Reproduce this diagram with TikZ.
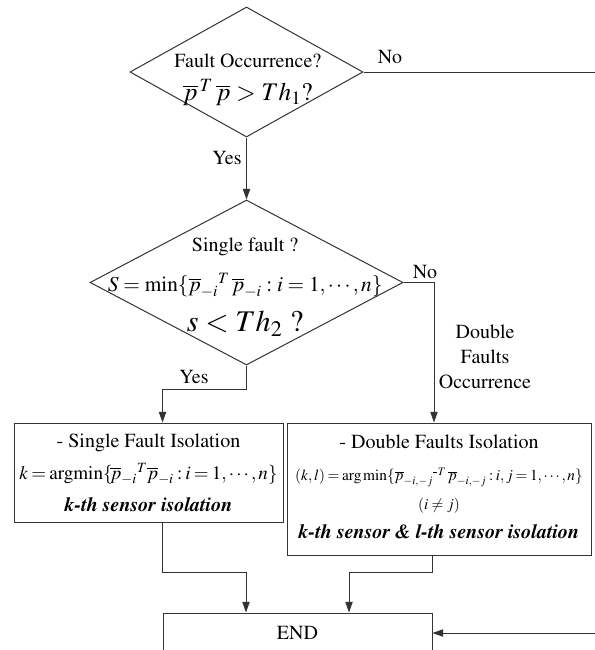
\documentclass[tikz,border=0pt]{standalone}
\usepackage[T1]{fontenc}
\usepackage{mathptmx}
\usetikzlibrary{arrows.meta,shapes.geometric}
\newcommand{\tightmath}{\thickmuskip=3mu\medmuskip=2mu\thinmuskip=2mu}

\begin{document}
\begin{tikzpicture}[x=0.75pt,y=-0.75pt, font=\fontsize{15}{18}\selectfont, line width=0.75pt,
 decision/.style={draw=black!80,diamond,inner sep=0pt},
 process/.style={draw=black!80,rectangle,align=center,inner sep=0pt},
 flow/.style={->,draw=black!80},
 >={Triangle[length=8pt,width=5.5pt]}]
\useasboundingbox (0,0) rectangle (595,650);
% decisions
\node[decision,minimum width=174.75pt,minimum height=97.5pt] (fault) at (246.5,72) {};
\node[align=center,font=\fontsize{15}{25}\selectfont] (faulttxt) at ([xshift=1pt,yshift=-6pt]fault.center)
 {Fault Occurrence?\\{\fontsize{19}{19}\selectfont$\overline{p}^{\,T}\,\overline{p} > Th_1?$}};
\node[decision,minimum width=234.75pt,minimum height=123.75pt] (single) at (246.5,282.5) {};
\node[align=center,font=\fontsize{15}{30}\selectfont] (singletxt) at ([xshift=-1pt,yshift=-3.4pt]single.center)
 {Single fault ?\\{\fontsize{16}{16}\selectfont$S=\min\{\overline{p}_{-i}{}^{T}\,\overline{p}_{-i} : i=1,\cdots,n\}$}\\{\fontsize{22.5}{22.5}\selectfont$s<Th_{2}\ ?$}};
% isolation boxes
\node[process,minimum width=201.75pt,minimum height=74.25pt,font=\fontsize{15}{24}\selectfont] (sfi) at (148.5,472.5)
 {- Single Fault Isolation\\{\fontsize{14.3}{14.3}\selectfont\tightmath$k=\mathrm{argmin}\{\!\overline{p}_{-i}{}^{T}\overline{p}_{-i} : i=1,\cdots,n\}$}\\\textbf{\textit{k-th sensor isolation}}};
\node[process,minimum width=228pt,minimum height=99pt] (dfi) at (439,489) {};
\node[align=center,font=\fontsize{15}{20}\selectfont] (dfitxt) at ([yshift=1.5pt]dfi.center)
 {- Double Faults Isolation\\[4pt]{\fontsize{11.5}{11.5}\selectfont\tightmath$(k,l)=\arg\min\{\overline{p}_{-i,-j}{}^{\rule[1.5pt]{2.5pt}{1pt}\,T}\,\overline{p}_{-i,-j} : i,j=1,\cdots,n\}$}\\[1.5pt]{\fontsize{11.5}{11.5}\selectfont$(i\neq j)$}\hspace*{75pt}\\[2pt]\textbf{\textit{k-th sensor \& l-th sensor isolation}}};
\node[process,minimum width=201.75pt,minimum height=30pt] (end) at (297.5,633) {END};
% labels
\node (yes1) at (227,158) {Yes};
\node (yes2) at (194,377) {Yes};
\node (no1) at (390,57) {No};
\node (no2) at (425,272) {No};
\node[align=center,font=\fontsize{15}{18.75}\selectfont] (dfocc) at (485,357) {Double\\Faults\\Occurrence};
% connectors
\coordinate (rim) at (600,0);
\draw[flow] (fault.south) -- (single.north);
\draw[flow] (single.south) -- ++(0,24) -| (end.west |- sfi.north);
\draw[flow] (single.east) -| ([xshift=-3.75pt]dfi.north);
\draw[flow] (end.west |- sfi.south) -- ++(0,50) -| ([xshift=-38.625pt]end.north);
\draw[flow] (end.east |- dfi.south) -- ++(0,17) -| ([xshift=38.625pt]end.north);
\draw[flow] (fault.east) -- (fault.east -| rim) |- (end.east);
\end{tikzpicture}
\end{document}
